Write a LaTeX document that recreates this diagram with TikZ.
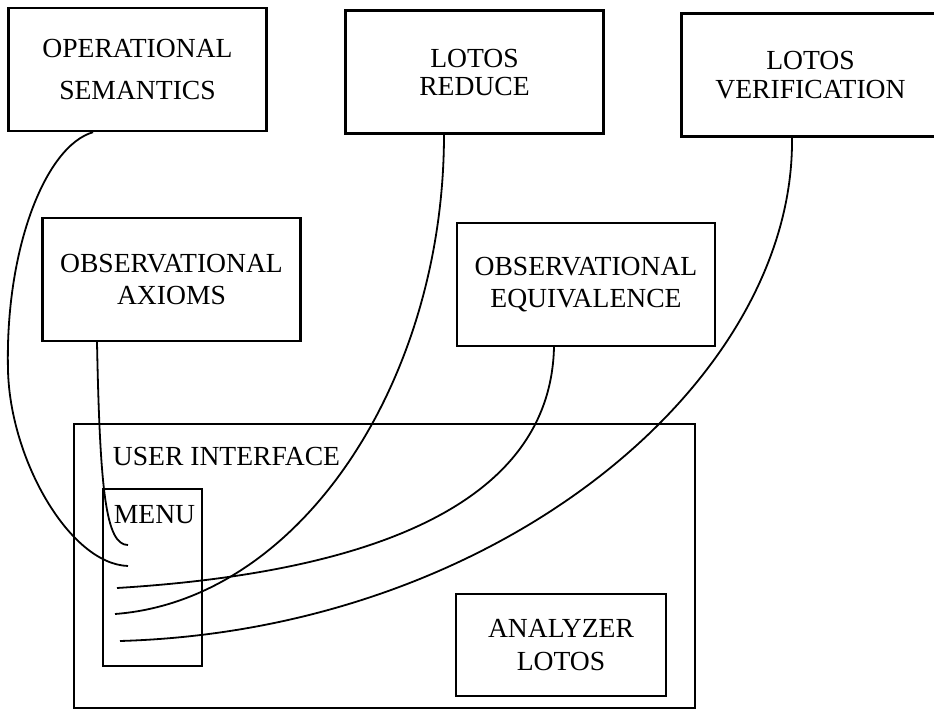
\documentclass[tikz,border=0pt]{standalone}
\usepackage{fontspec}
\setmainfont{Liberation Serif}

\begin{document}
\begin{tikzpicture}[x=0.5pt,y=-0.5pt,line width=0.9pt]
  \tikzstyle{box}=[rectangle, draw, line width=1.2pt, inner sep=0pt, align=center, minimum width=129pt, minimum height=61.5pt, font=\fontsize{13.8}{16}\selectfont]
  \tikzstyle{lbl}=[inner sep=0pt, anchor=base west, font=\fontsize{13.8}{16}\selectfont]
  \clip (0,0) rectangle (934,712);

  \node[box] (1) at (137.5,69.5) {OPERATIONAL\\[5pt]SEMANTICS};
  \node[box] (2) at (474.5,72) {LOTOS\\[-2pt]REDUCE};
  \node[box] (3) at (810.5,75) {LOTOS\\[-1.5pt]VERIFICATION};
  \node[box] (4) at (171.5,279.5) {OBSERVATIONAL\\AXIOMS};
  \node[box] (5) at (586,284.5) {OBSERVATIONAL\\EQUIVALENCE};

  \node[box, minimum width=310.5pt, minimum height=142pt] (6) at (384.5,566) {};
  \node[box, minimum width=49.5pt, minimum height=88.5pt] (7) at (152.5,577.5) {};
  \node[box, minimum width=105pt, minimum height=51pt] (8) at (561,645) {ANALYZER\\[0.5pt]LOTOS};
  \node[lbl] (9) at (112,465) {USER INTERFACE};
  \node[lbl] (10) at (113,523) {MENU};

  \coordinate (e1) at (128,545);
  \coordinate (e2) at (128,566);
  \coordinate (e3) at (117,588);
  \coordinate (e4) at (115,614);
  \coordinate (e5) at (120,641);

  \draw ([xshift=-22.25pt]1.south) .. controls +(-48,14) and +(-3,-120) .. (8,370) .. controls +(2,90) and +(-58,-2) .. (e2);
  \draw ([xshift=-15.25pt]2.south) .. controls +(0,247) and +(185,-14) .. (e4);
  \draw ([xshift=-9.25pt]3.south) .. controls +(3,243) and +(380,-11) .. (e5);
  \draw ([xshift=-37.25pt]4.south) .. controls +(3,150) and +(-22,0) .. (e1);
  \draw ([xshift=-16pt]5.south) .. controls +(-4,174) and +(213,-13) .. (e3);

\end{tikzpicture}
\end{document}
